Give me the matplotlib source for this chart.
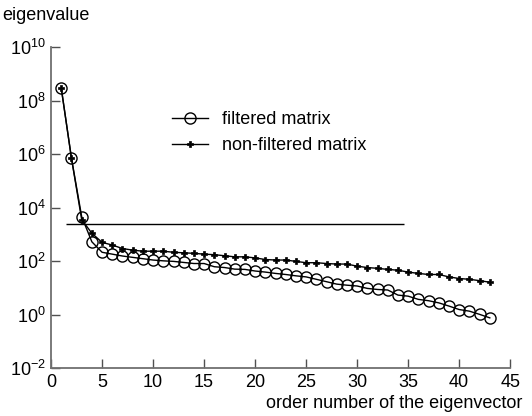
import numpy as np
import matplotlib
matplotlib.use("Agg")
import matplotlib.pyplot as plt

plt.rcParams['font.family'] = ['Liberation Sans', 'DejaVu Sans']
plt.rcParams['mathtext.fontset'] = 'custom'
plt.rcParams['mathtext.rm'] = 'Liberation Sans'
plt.rcParams['mathtext.it'] = 'Liberation Sans'

# order number of eigenvector
order = list(range(1, 44))

# log10 of eigenvalues
filtered_log = [8.46, 5.84, 3.66, 2.72, 2.33, 2.26, 2.19, 2.14, 2.09, 2.04,
                2.01, 1.99, 1.95, 1.91, 1.91, 1.79, 1.76, 1.70, 1.69, 1.63,
                1.59, 1.54, 1.50, 1.45, 1.41, 1.32, 1.23, 1.14, 1.10, 1.07,
                0.98, 0.94, 0.92, 0.73, 0.69, 0.57, 0.52, 0.44, 0.32, 0.19,
                0.13, 0.01, -0.12]
nonfiltered_log = [8.46, 5.84, 3.55, 3.04, 2.70, 2.60, 2.47, 2.41, 2.37, 2.37,
                   2.37, 2.33, 2.31, 2.29, 2.26, 2.24, 2.20, 2.16, 2.16, 2.12,
                   2.06, 2.04, 2.04, 1.99, 1.94, 1.94, 1.91, 1.89, 1.89, 1.81,
                   1.76, 1.73, 1.69, 1.66, 1.59, 1.54, 1.50, 1.50, 1.41, 1.35,
                   1.32, 1.27, 1.21]

# threshold line
threshold = 2400
threshold_from, threshold_to = 1.5, 34.6

filtered = 10 ** np.array(filtered_log)
nonfiltered = 10 ** np.array(nonfiltered_log)

fig = plt.figure(figsize=(5.32, 4.16), dpi=100)
ax = fig.add_axes([0.096, 0.115, 0.863, 0.772])

ax.plot(order, filtered, color='black', lw=1, marker='o', ms=8,
        mfc='none', mec='black', mew=1, label='filtered matrix')
ax.plot(order, nonfiltered, color='black', lw=1, marker='P', ms=4.5,
        mfc='black', mec='black', mew=0.5, label='non-filtered matrix')
ax.hlines(threshold, threshold_from, threshold_to, color='black', lw=1)

ax.set_yscale('log')
ax.set_xlim(0, 45)
ax.set_ylim(1e-2, 1e10)
ax.set_xticks(range(0, 46, 5))
yt = [10.0 ** k for k in range(-2, 11, 2)]
ax.set_yticks(yt)
ax.set_yticklabels([r'$10^{%d}$' % k for k in range(-2, 11, 2)])
ax.yaxis.set_minor_locator(matplotlib.ticker.NullLocator())

for s in ['top', 'right']:
    ax.spines[s].set_visible(False)
for s in ['left', 'bottom']:
    ax.spines[s].set_color('#707070')
    ax.spines[s].set_linewidth(1.3)
ax.tick_params(direction='in', length=6.5, width=1, color='#505050',
               labelsize=13, pad=4)

fig.text(0.005, 0.952, 'eigenvalue', fontsize=13)
fig.text(0.982, 0.020, 'order number of the eigenvector', fontsize=13, ha='right')

ax.legend(loc='upper left', bbox_to_anchor=(0.264, 0.80), frameon=False,
          fontsize=13, handlelength=2.0, handletextpad=0.75, labelspacing=0.5,
          borderpad=0, borderaxespad=0)

plt.savefig('out.png', dpi=100)
